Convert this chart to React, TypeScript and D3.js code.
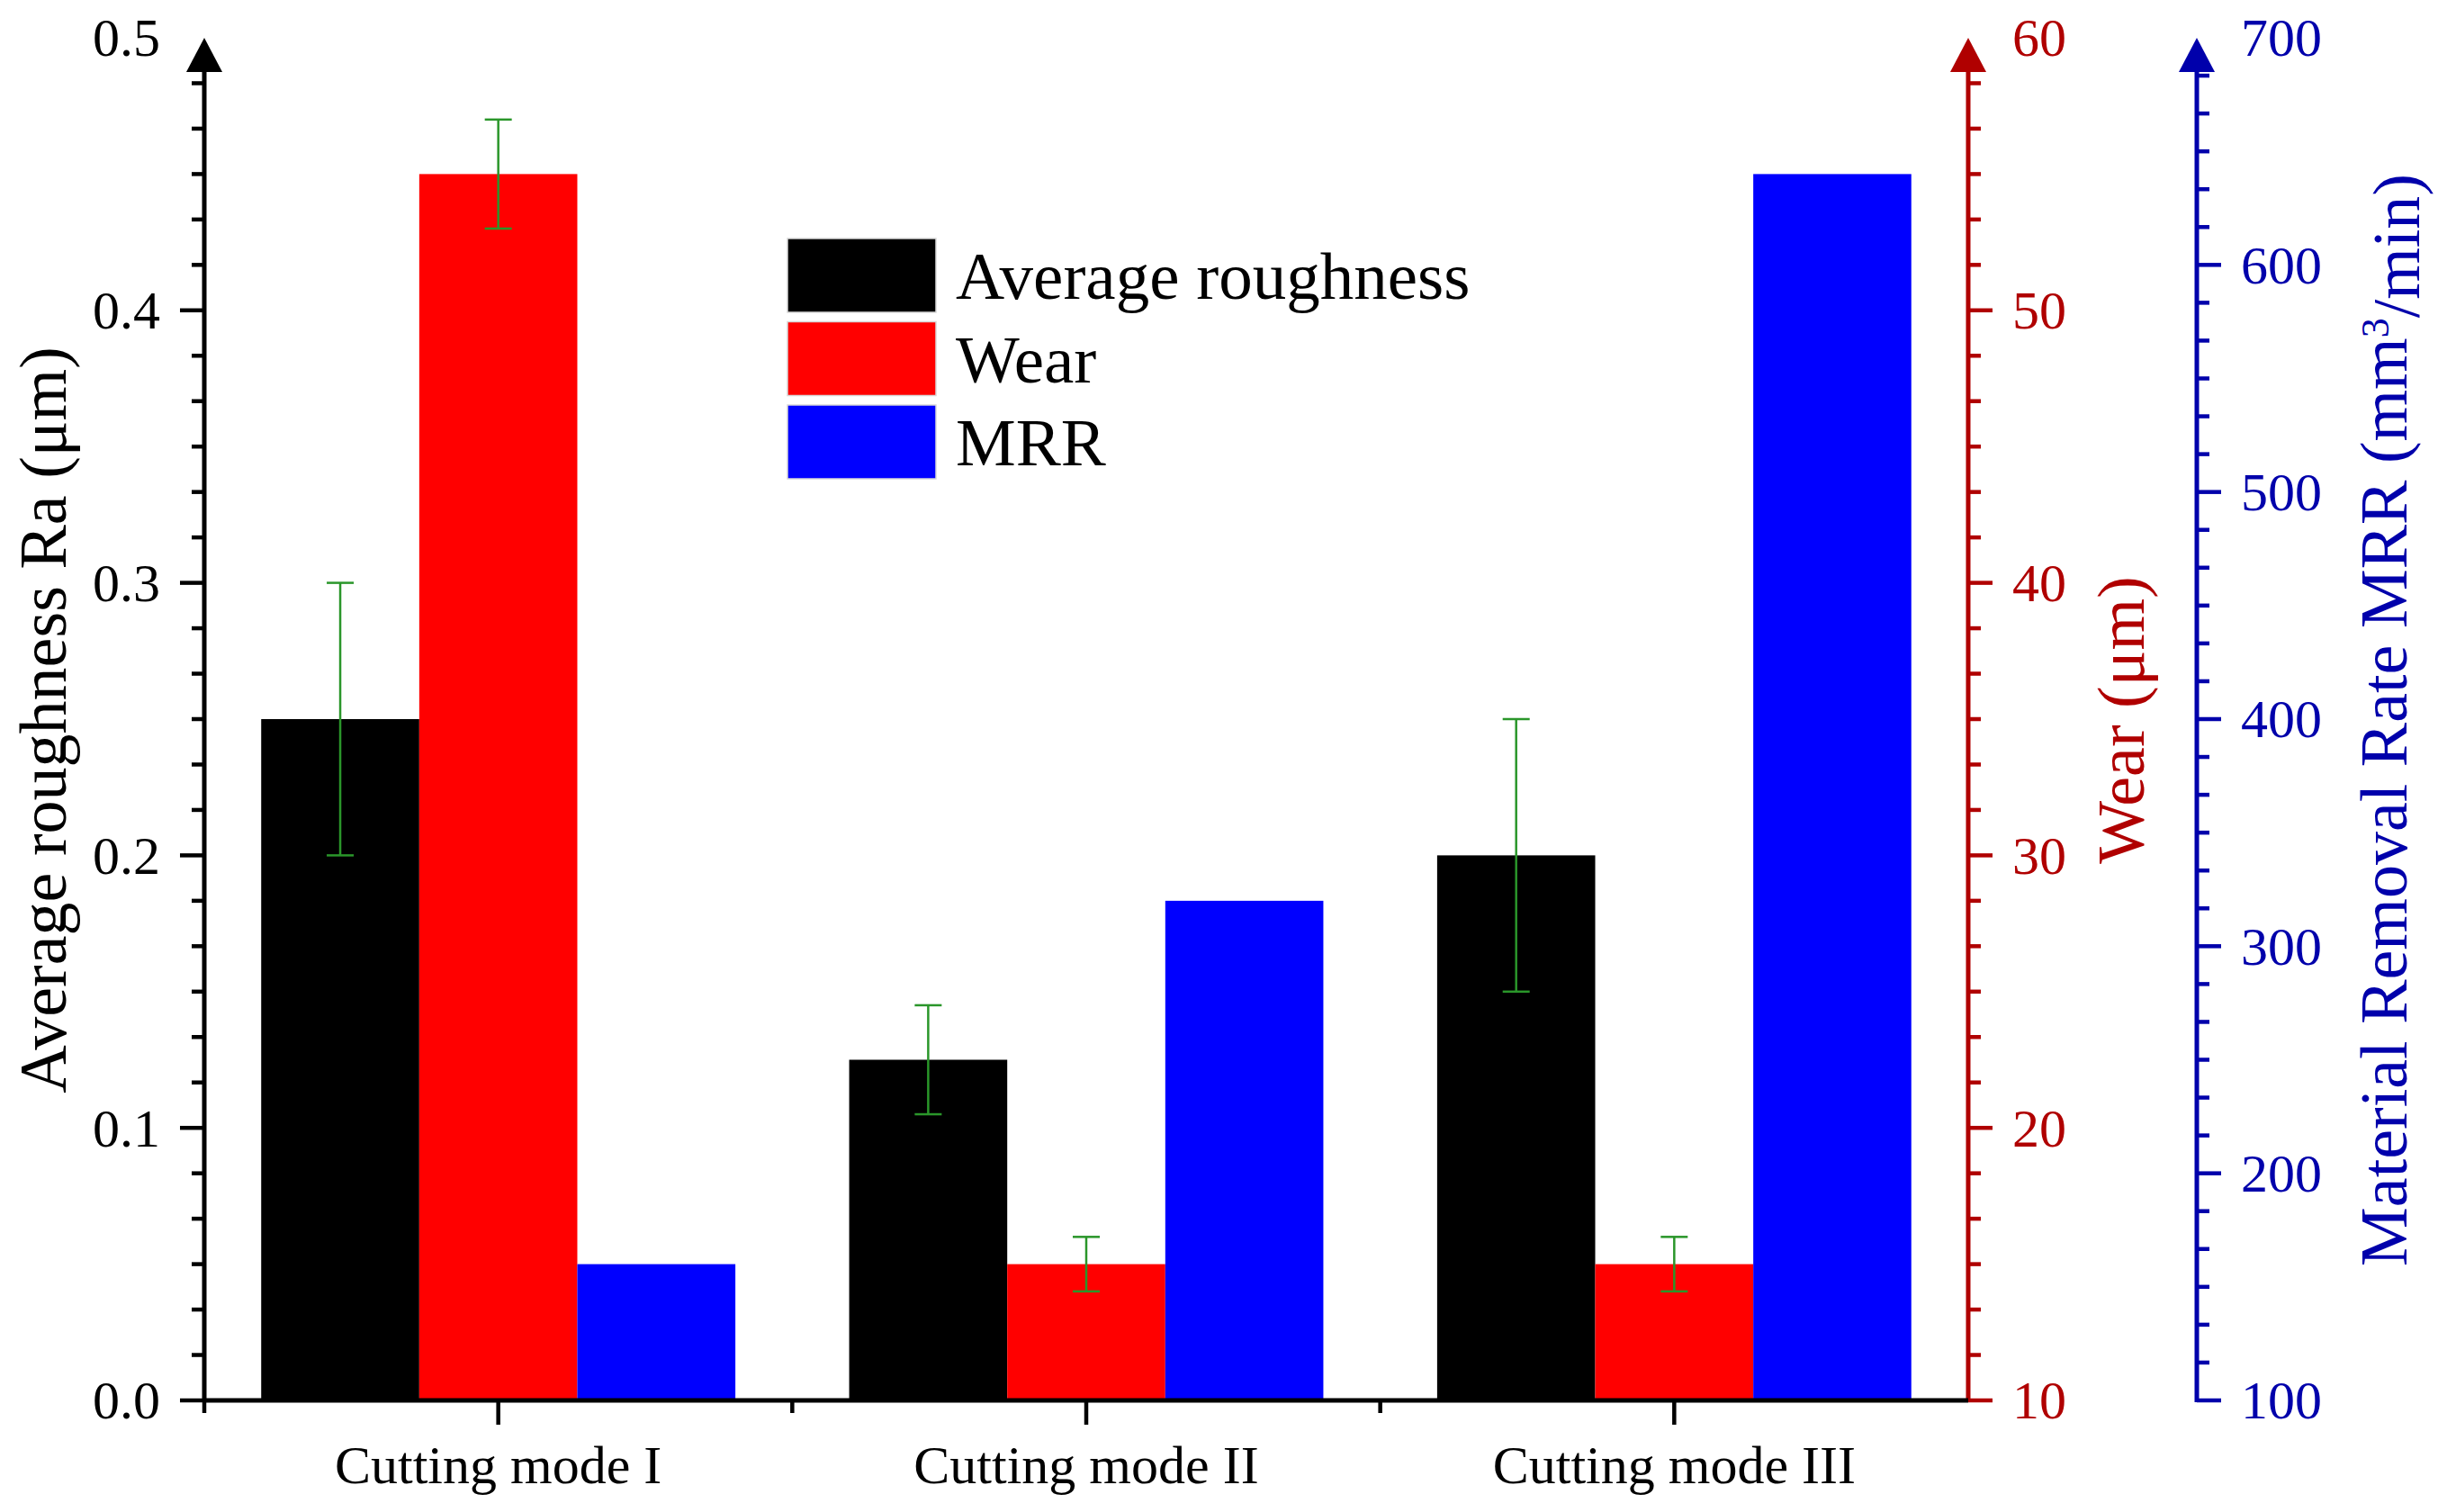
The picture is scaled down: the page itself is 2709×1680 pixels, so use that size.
import React, { useEffect, useRef } from "react";
import * as d3 from "d3";

const categories = ["Cutting mode I", "Cutting mode II", "Cutting mode III"];
const seriesNames = ["Average roughness", "Wear", "MRR"];
const roughness = [0.25, 0.125, 0.2];
const roughnessErr = [0.05, 0.02, 0.05];
const wear = [55, 15, 15];
const wearErr = [2, 1, 1];
const mrr = [160, 320, 640];
const raTicks = [0, 0.1, 0.2, 0.3, 0.4, 0.5];
const wearTicks = [10, 20, 30, 40, 50, 60];
const mrrTicks = [100, 200, 300, 400, 500, 600, 700];

const App: React.FC = () => {
  const svgRef = useRef<SVGSVGElement | null>(null);

  useEffect(() => {
    document.body.style.margin = "0";
    const svg = d3.select(svgRef.current);
    svg.selectAll("*").remove();

    const W = 2709;
    const H = 1680;
    const font = "'Liberation Serif', 'Times New Roman', serif";
    const axisLeftX = 227;
    const wearX = 2187;
    const mrrX = 2441;
    const y0 = 1556;
    const yTop = 42;
    const majorLen = 27;
    const minorLen = 14;
    const darkRed = "#b00000";
    const darkBlue = "#0000ab";
    const barColors = ["#000000", "#ff0000", "#0000ff"];

    svg.attr("width", W).attr("height", H).style("background", "#fff");

    const x = d3.scaleBand<string>().domain(categories).range([axisLeftX, wearX]).padding(0);
    const xs = d3.scaleBand<string>().domain(seriesNames).range([0, x.bandwidth()]).paddingInner(0).paddingOuter(0.36);

    const yRa = d3.scaleLinear().domain([0, 0.5]).range([y0, yTop]);
    const yWear = d3.scaleLinear().domain([10, 60]).range([y0, yTop]);
    const yMrr = d3.scaleLinear().domain([100, 700]).range([y0, yTop]);

    const series = [
      { name: seriesNames[0], values: roughness, err: roughnessErr, scale: yRa },
      { name: seriesNames[1], values: wear, err: wearErr, scale: yWear },
      { name: seriesNames[2], values: mrr, err: null as number[] | null, scale: yMrr },
    ];

    // bars
    series.forEach((s, si) => {
      svg.append("g")
        .selectAll("rect")
        .data(s.values)
        .enter()
        .append("rect")
        .attr("x", (_, i) => x(categories[i])! + xs(s.name)!)
        .attr("width", xs.bandwidth())
        .attr("y", d => s.scale(d))
        .attr("height", d => y0 - s.scale(d))
        .attr("fill", barColors[si]);
    });

    // error bars
    series.forEach(s => {
      if (!s.err) return;
      const g = svg.append("g").attr("stroke", "#2a962a").attr("stroke-width", 2.5);
      s.values.forEach((v, i) => {
        const cx = x(categories[i])! + xs(s.name)! + xs.bandwidth() / 2;
        const hi = s.scale(v + s.err![i]);
        const lo = s.scale(v - s.err![i]);
        g.append("line").attr("x1", cx).attr("x2", cx).attr("y1", hi).attr("y2", lo);
        g.append("line").attr("x1", cx - 15).attr("x2", cx + 15).attr("y1", hi).attr("y2", hi);
        g.append("line").attr("x1", cx - 15).attr("x2", cx + 15).attr("y1", lo).attr("y2", lo);
      });
    });

    // vertical axis helper
    const drawAxis = (
      ax: number,
      scale: d3.ScaleLinear<number, number>,
      ticks: number[],
      color: string,
      dir: number,
      fmt: (v: number) => string,
      labelGap: number
    ) => {
      const g = svg.append("g").attr("stroke", color).attr("fill", color);
      const [d0, d1] = scale.domain();
      const step = ticks[1] - ticks[0];
      const arrowH = 38;
      const arrowW = 40;
      g.append("line")
        .attr("x1", ax).attr("x2", ax)
        .attr("y1", y0 + 2).attr("y2", scale(d1) + arrowH)
        .attr("stroke-width", 5);
      g.append("path")
        .attr("d", `M${ax},${scale(d1)} L${ax - arrowW / 2},${scale(d1) + arrowH} L${ax + arrowW / 2},${scale(d1) + arrowH} Z`)
        .attr("stroke", "none");
      // minor ticks
      const minors: number[] = [];
      for (let i = 1; i < ((d1 - d0) / step) * 6; i++) {
        if (i % 6 !== 0) minors.push(d0 + (i * step) / 6);
      }
      g.selectAll(".minor")
        .data(minors)
        .enter()
        .append("line")
        .attr("x1", ax).attr("x2", ax + dir * minorLen)
        .attr("y1", d => scale(d)).attr("y2", d => scale(d))
        .attr("stroke-width", 4.5);
      g.selectAll(".major")
        .data(ticks.filter(t => t < d1))
        .enter()
        .append("line")
        .attr("x1", ax).attr("x2", ax + dir * majorLen)
        .attr("y1", d => scale(d)).attr("y2", d => scale(d))
        .attr("stroke-width", 4.5);
      g.selectAll(".lbl")
        .data(ticks)
        .enter()
        .append("text")
        .attr("x", ax + dir * (majorLen + labelGap))
        .attr("y", d => scale(d))
        .attr("dy", "0.34em")
        .attr("stroke", "none")
        .attr("text-anchor", dir < 0 ? "end" : "start")
        .style("font-family", font)
        .style("font-size", "60px")
        .text(d => fmt(d));
    };

    drawAxis(axisLeftX, yRa, raTicks, "#000", -1, d3.format(".1f"), 22);
    drawAxis(wearX, yWear, wearTicks, darkRed, 1, d3.format("d"), 22);
    drawAxis(mrrX, yMrr, mrrTicks, darkBlue, 1, d3.format("d"), 22);

    // bottom axis
    const gb = svg.append("g").attr("stroke", "#000").attr("stroke-width", 4.5);
    gb.append("line").attr("x1", axisLeftX - 2).attr("x2", wearX).attr("y1", y0).attr("y2", y0).attr("stroke-width", 5);
    gb.selectAll(".cat")
      .data(categories)
      .enter()
      .append("line")
      .attr("x1", d => x(d)! + x.bandwidth() / 2)
      .attr("x2", d => x(d)! + x.bandwidth() / 2)
      .attr("y1", y0).attr("y2", y0 + majorLen);
    gb.selectAll(".bnd")
      .data(categories)
      .enter()
      .append("line")
      .attr("x1", d => x(d)!)
      .attr("x2", d => x(d)!)
      .attr("y1", y0).attr("y2", y0 + minorLen);
    svg.append("g")
      .selectAll("text")
      .data(categories)
      .enter()
      .append("text")
      .attr("x", d => x(d)! + x.bandwidth() / 2)
      .attr("y", 1648)
      .attr("text-anchor", "middle")
      .style("font-family", font)
      .style("font-size", "60px")
      .text(d => d);

    // axis titles
    const title = (tx: number, color: string) =>
      svg.append("text")
        .attr("transform", `translate(${tx}, 800) rotate(-90)`)
        .attr("text-anchor", "middle")
        .attr("fill", color)
        .style("font-family", font)
        .style("font-size", "74px");

    title(73, "#000").text("Average roughness Ra (μm)");
    title(2382, darkRed).text("Wear (μm)");
    const mt = title(2674, darkBlue);
    mt.append("tspan").text("Material Removal Rate MRR (mm");
    mt.append("tspan").attr("dy", "-0.45em").style("font-size", "44px").text("3");
    mt.append("tspan").attr("dy", "0.45em").text("/min)");

    // legend
    const legend = svg.append("g").attr("transform", "translate(875, 265)");
    seriesNames.forEach((name, i) => {
      const row = legend.append("g").attr("transform", `translate(0, ${i * 92.5})`);
      row.append("rect")
        .attr("width", 165)
        .attr("height", 82)
        .attr("fill", barColors[i])
        .attr("stroke", "#d8d8d8")
        .attr("stroke-width", 1.5);
      row.append("text")
        .attr("x", 187)
        .attr("y", 67)
        .style("font-family", font)
        .style("font-size", "75px")
        .text(name);
    });
  }, []);

  return <svg ref={svgRef} style={{ display: "block" }}></svg>;
};

export default App;
